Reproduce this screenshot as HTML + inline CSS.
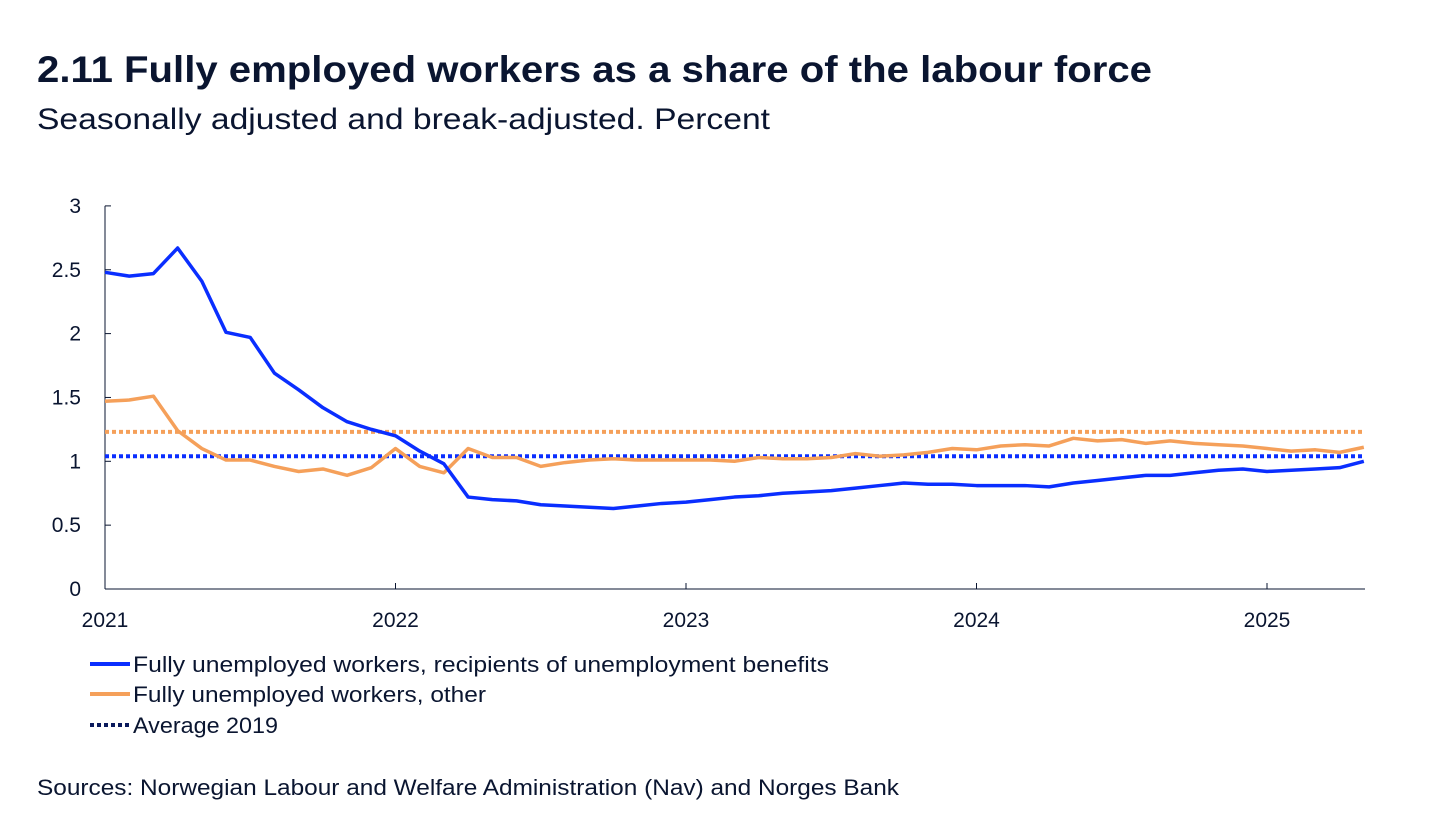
<!DOCTYPE html>
<html><head><meta charset="utf-8"><style>
body{margin:0;background:#fff;font-family:"Liberation Sans",sans-serif;color:#0a1530}
</style></head><body>
<svg width="1445" height="813" xmlns="http://www.w3.org/2000/svg" font-family="Liberation Sans, sans-serif">
<text x="37" y="82" font-size="37" font-weight="bold" fill="#0a1530" textLength="1115" lengthAdjust="spacingAndGlyphs">2.11 Fully employed workers as a share of the  labour force</text>
<text x="37" y="129" font-size="30" fill="#0a1530" textLength="733" lengthAdjust="spacingAndGlyphs">Seasonally adjusted and break-adjusted. Percent</text>
<g id="axes"></g>
<g id="plot"></g>
<g>
<line x1="90" y1="664" x2="130" y2="664" stroke="#0a2eff" stroke-width="4"/>
<text x="133" y="672" font-size="22" fill="#0a1530" textLength="696" lengthAdjust="spacingAndGlyphs">Fully unemployed workers, recipients of unemployment benefits</text>
<line x1="90" y1="694" x2="130" y2="694" stroke="#f5a05a" stroke-width="4"/>
<text x="133" y="702" font-size="22" fill="#0a1530" textLength="353" lengthAdjust="spacingAndGlyphs">Fully unemployed workers, other</text>
<line x1="90" y1="725" x2="130" y2="725" stroke="#0a1a5c" stroke-width="4" stroke-dasharray="4,3"/>
<text x="133" y="733" font-size="22" fill="#0a1530" textLength="145" lengthAdjust="spacingAndGlyphs">Average 2019</text>
</g>
<text x="37" y="795" font-size="22" fill="#0a1530" textLength="862" lengthAdjust="spacingAndGlyphs">Sources: Norwegian Labour and  Welfare Administration (Nav) and Norges Bank</text>
</svg>
<script>
const blue=[2.48,2.45,2.47,2.67,2.41,2.01,1.97,1.69,1.56,1.42,1.31,1.25,1.20,1.08,0.98,0.72,0.70,0.69,0.66,0.65,0.64,0.63,0.65,0.67,0.68,0.70,0.72,0.73,0.75,0.76,0.77,0.79,0.81,0.83,0.82,0.82,0.81,0.81,0.81,0.80,0.83,0.85,0.87,0.89,0.89,0.91,0.93,0.94,0.92,0.93,0.94,0.95,1.00];
const orange=[1.47,1.48,1.51,1.24,1.10,1.01,1.01,0.96,0.92,0.94,0.89,0.95,1.10,0.96,0.91,1.10,1.03,1.03,0.96,0.99,1.01,1.02,1.01,1.01,1.01,1.01,1.00,1.03,1.02,1.02,1.03,1.06,1.04,1.05,1.07,1.10,1.09,1.12,1.13,1.12,1.18,1.16,1.17,1.14,1.16,1.14,1.13,1.12,1.10,1.08,1.09,1.07,1.11];
const avgBlue=1.04, avgOrange=1.23;
const yTicks=[0,0.5,1,1.5,2,2.5,3];
const yTickLabels=["0","0.5","1","1.5","2","2.5","3"];
const xYears=["2021","2022","2023","2024","2025"];
const NS="http://www.w3.org/2000/svg";
const x0=105,yearW=290.5,y0=589,yU=127.7,xEnd=1365;
const xm=i=>x0+i*yearW/12, y=v=>y0-v*yU;
function mk(t,a,p){const e=document.createElementNS(NS,t);for(const k in a)e.setAttribute(k,a[k]);p.appendChild(e);return e;}
const ax=document.getElementById('axes'), pl=document.getElementById('plot');
let l=mk('line',{x1:x0,y1:y(3),x2:x0,y2:y0,stroke:'#0a1530','stroke-width':1},ax);


l=mk('line',{x1:x0,y1:y0,x2:xEnd,y2:y0,stroke:'#0a1530','stroke-width':1},ax);


yTicks.forEach((v,i)=>{mk('line',{x1:x0,y1:y(v),x2:x0+6,y2:y(v),stroke:'#0a1530'},ax);
const t=mk('text',{x:x0-24,y:y(v)+7,'font-size':21,'text-anchor':'end',fill:'#0a1530'},ax);t.textContent=yTickLabels[i];

});
xYears.forEach((s,i)=>{const xx=xm(i*12);mk('line',{x1:xx,y1:y0,x2:xx,y2:y0-6,stroke:'#0a1530'},ax);
const t=mk('text',{x:xx,y:627,'font-size':21,'text-anchor':'middle',fill:'#0a1530'},ax);t.textContent=s;

});
l=mk('line',{x1:x0,y1:y(avgOrange),x2:xEnd,y2:y(avgOrange),stroke:'#f5a05a','stroke-width':4,'stroke-dasharray':'4,3'},pl);


l=mk('line',{x1:x0,y1:y(avgBlue),x2:xEnd,y2:y(avgBlue),stroke:'#0a2eff','stroke-width':4,'stroke-dasharray':'4,3'},pl);


function line(d,c,n){const p=mk('polyline',{points:d.map((v,i)=>xm(i)+','+y(v)).join(' '),fill:'none',stroke:c,'stroke-width':3.5,'stroke-linejoin':'round'},pl);

}
line(orange,'#f5a05a','series-other');
line(blue,'#0a2eff','series-benefits');
</script>
</body></html>
